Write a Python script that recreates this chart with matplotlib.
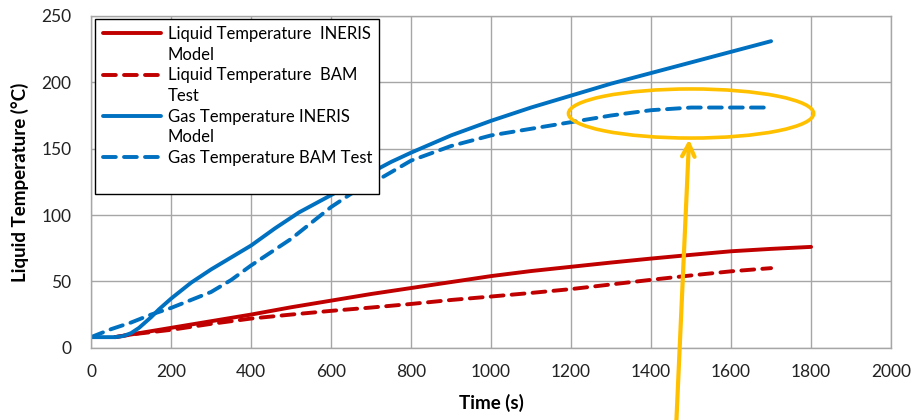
import matplotlib.pyplot as plt
from matplotlib.lines import Line2D
from matplotlib.patches import Ellipse

plt.rcParams['font.family'] = ['Lato', 'DejaVu Sans']

# values
t_gas_model = [0, 60, 80, 100, 120, 150, 170, 200, 250, 300, 350, 400, 460, 520,
               600, 700, 750, 800, 900, 1000, 1100, 1200, 1300, 1400, 1500, 1600, 1700]
gas_model = [8, 8, 8.8, 11, 15, 23, 29, 37, 49, 59, 68, 77, 90, 102,
             115, 132, 140, 147, 160, 171, 181, 190, 199, 207, 215, 223, 231]

t_gas_test = [0, 50, 100, 150, 200, 250, 300, 350, 400, 450, 500, 550, 600, 650,
              720, 800, 900, 1000, 1100, 1200, 1300, 1400, 1500, 1600, 1700]
gas_test = [8, 14, 19, 25, 30, 36, 42, 51, 62, 72, 82, 94, 106, 116,
            127, 141, 152, 160, 165, 170, 175, 179, 181, 181, 181]

t_liq_model = [60, 100, 200, 300, 400, 500, 600, 700, 800, 900, 1000, 1100,
               1200, 1300, 1400, 1500, 1600, 1700, 1800]
liq_model = [8, 10, 15, 20, 25, 30.5, 35.5, 40.5, 45, 49.5, 54, 57.8,
             61, 64.2, 67.2, 70, 72.7, 74.5, 76]

t_liq_test = [60, 100, 200, 300, 400, 500, 600, 700, 800, 900, 1000, 1100,
              1200, 1300, 1400, 1500, 1600, 1700]
liq_test = [8, 10, 13.5, 18, 22, 25, 27.8, 30.3, 33, 36, 38.6, 41.3,
            44.2, 47.7, 51.2, 54.5, 57.6, 60]

labels = ['Liquid Temperature  INERIS', 'Model', 'Liquid Temperature  BAM', 'Test',
          'Gas Temperature INERIS', 'Model', 'Gas Temperature BAM Test', ' ']

red = '#C00000'
blue = '#0070C0'
gold = '#FFC000'
grid_c = '#A6A6A6'

fig = plt.figure(figsize=(9.13, 4.2), dpi=100)
ax = fig.add_axes([0.0997, 0.172, 0.8763, 0.790])

dash = (0, (3.3, 2.1))
lw = 2.8
kw = dict(lw=lw, solid_capstyle='round', solid_joinstyle='round',
          dash_capstyle='round', dash_joinstyle='round')
l1, = ax.plot(t_liq_model, liq_model, color=red, **kw)
l2, = ax.plot(t_liq_test, liq_test, color=red, ls=dash, **kw)
l3, = ax.plot(t_gas_model, gas_model, color=blue, **kw)
l4, = ax.plot(t_gas_test, gas_test, color=blue, ls=dash, **kw)

ax.set_xlim(0, 2000)
ax.set_ylim(0, 250)
ax.set_xticks(range(0, 2001, 200))
ax.set_yticks(range(0, 251, 50))
ax.grid(True, color=grid_c, lw=1)
ax.set_axisbelow(True)
for s in ax.spines.values():
    s.set_color(grid_c)
    s.set_linewidth(1)
ax.tick_params(length=0, labelsize=12.5, colors='#222222', pad=12)
ax.tick_params(axis='y', pad=14)

ax.set_xlabel('Time (s)', fontsize=13.5, fontweight='bold', labelpad=10)
ax.set_ylabel('Liquid Temperature (°C)', fontsize=13.5, fontweight='bold', labelpad=9)

blank = Line2D([], [], color='none')
handles = [l1, blank, l2, blank, l3, blank, l4, blank]
leg = ax.legend(handles, labels, loc='upper left', bbox_to_anchor=(0.005, 0.992),
                borderaxespad=0, fontsize=12, handlelength=3.5, handletextpad=0.4,
                labelspacing=0.28, fancybox=False, framealpha=1, borderpad=0.45)
leg.get_frame().set_edgecolor('black')
leg.get_frame().set_linewidth(1)

# highlight around the plateau of the BAM gas test
ax.add_patch(Ellipse((1500, 176.5), 613, 37, fill=False, ec=gold, lw=2.6, zorder=5))
ax.annotate('', xy=(1495, 157), xytext=(1463, -57), annotation_clip=False,
            arrowprops=dict(arrowstyle='->,head_length=0.9,head_width=0.45',
                            color=gold, lw=3, shrinkA=0, shrinkB=0))

fig.savefig('out.png', dpi=100)
